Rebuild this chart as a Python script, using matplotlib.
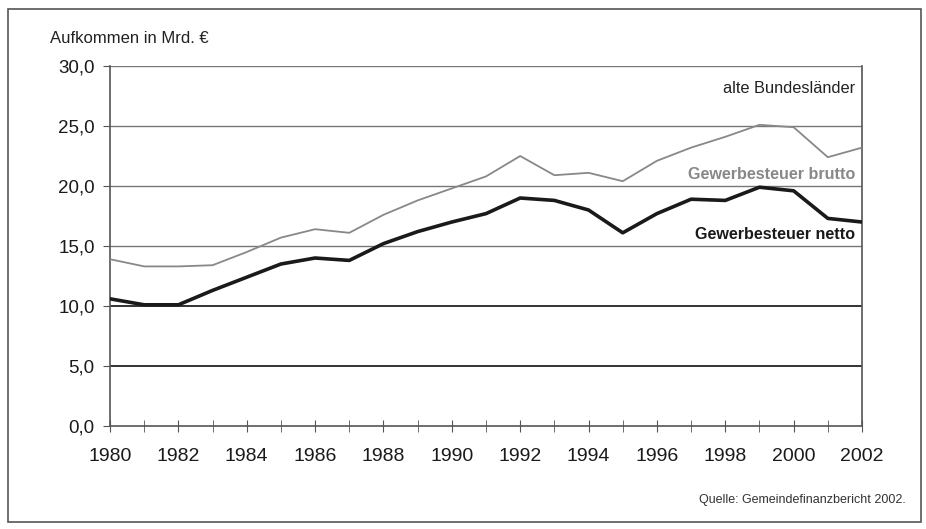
from matplotlib import pyplot as plt
from matplotlib.patches import Rectangle

plt.rcParams['font.family'] = ['Liberation Sans', 'DejaVu Sans']

# Aufkommen in Mrd. Euro, alte Bundeslaender
jahre = list(range(1980, 2003))
brutto = [13.9, 13.3, 13.3, 13.4, 14.5, 15.7, 16.4, 16.1, 17.6, 18.8, 19.8, 20.8,
          22.5, 20.9, 21.1, 20.4, 22.1, 23.2, 24.1, 25.1, 24.9, 22.4, 23.2]
netto = [10.6, 10.1, 10.1, 11.3, 12.4, 13.5, 14.0, 13.8, 15.2, 16.2, 17.0, 17.7,
         19.0, 18.8, 18.0, 16.1, 17.7, 18.9, 18.8, 19.9, 19.6, 17.3, 17.0]
y_ticks = [0, 5, 10, 15, 20, 25, 30]
x_ticks = list(range(1980, 2003, 2))

fig = plt.figure(figsize=(9.26, 5.29), dpi=100)
fig.patches.append(Rectangle((0.009, 0.013), 0.986, 0.97, transform=fig.transFigure,
                             fill=False, edgecolor='#555555', linewidth=1.2))

ax = fig.add_axes([0.1188, 0.1947, 0.8121, 0.6805])

# Gitterlinien
for y in y_ticks[1:]:
    if y in (5, 10):
        ax.axhline(y, color='#333333', linewidth=1.4, zorder=1)
    else:
        ax.axhline(y, color='#777777', linewidth=1.0, zorder=1)

ax.plot(jahre, brutto, color='#888888', linewidth=1.3, zorder=3)
ax.plot(jahre, netto, color='#1a1a1a', linewidth=2.6, zorder=3)

ax.set_xlim(1980, 2002)
ax.set_ylim(0, 30)
ax.set_yticks(y_ticks)
ax.set_yticklabels([('%.1f' % v).replace('.', ',') for v in y_ticks], fontsize=13.5,
                   color='#1a1a1a')
ax.set_xticks(jahre, minor=True)
ax.set_xticks(x_ticks)
ax.set_xticklabels([str(j) for j in x_ticks], fontsize=14, color='#1a1a1a')
ax.tick_params(axis='y', direction='out', length=5, color='#555555', pad=6)
ax.tick_params(axis='x', which='both', direction='inout', length=8, color='#555555', pad=12)

for s in ['left', 'right', 'bottom']:
    ax.spines[s].set_color('#555555')
    ax.spines[s].set_linewidth(1.2)
ax.spines['top'].set_visible(False)

fig.text(0.054, 0.928, 'Aufkommen in Mrd. €', fontsize=12, va='center', color='#222222')
ax.text(2001.8, 28.1, 'alte Bundesländer', fontsize=11.8, ha='right', va='center',
        color='#222222')
ax.text(2001.8, 21.0, 'Gewerbesteuer brutto', fontsize=11.6, fontweight='bold',
        ha='right', va='center', color='#888888')
ax.text(2001.8, 16.0, 'Gewerbesteuer netto', fontsize=11.6, fontweight='bold',
        ha='right', va='center', color='#1a1a1a')
fig.text(0.978, 0.055, 'Quelle: Gemeindefinanzbericht 2002.', fontsize=9,
         ha='right', va='center', color='#333333')

plt.savefig('out.png', dpi=100)
